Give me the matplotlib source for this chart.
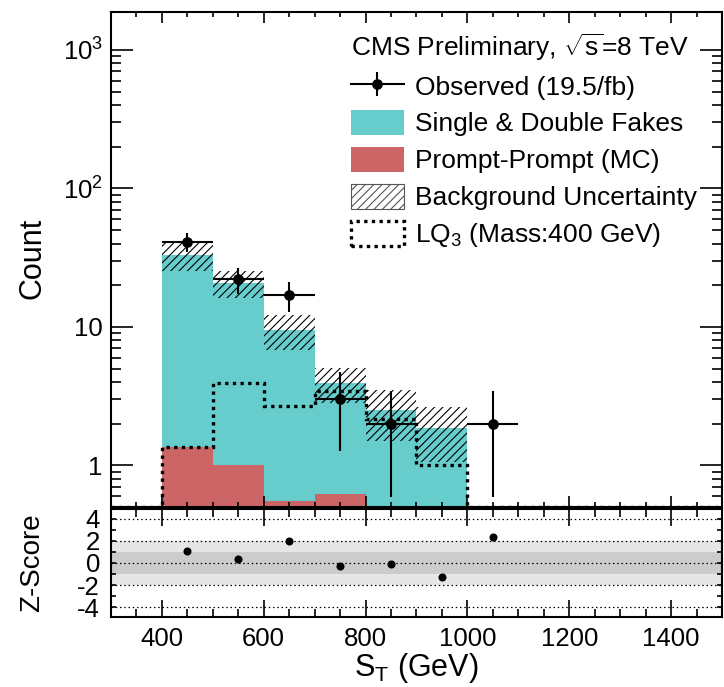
import numpy as np
import matplotlib
matplotlib.use('Agg')
import matplotlib.pyplot as plt
from matplotlib.patches import Patch
from matplotlib.lines import Line2D
from matplotlib.ticker import FixedLocator, FuncFormatter, NullFormatter, MultipleLocator

plt.rcParams['font.family'] = ['Liberation Sans', 'DejaVu Sans']
plt.rcParams['mathtext.fontset'] = 'custom'
plt.rcParams['mathtext.rm'] = 'Liberation Sans'
plt.rcParams['mathtext.it'] = 'Liberation Sans:italic'
plt.rcParams['mathtext.bf'] = 'Liberation Sans:bold'
plt.rcParams['axes.unicode_minus'] = False
plt.rcParams['hatch.linewidth'] = 0.8

# S_T binning (GeV)
edges = np.arange(300, 1501, 100)
centers = edges[:-1] + 50

prompt = np.array([0, 1.35, 1.0, 0.55, 0.62, 0, 0, 0, 0, 0, 0, 0])
fakes = np.array([0, 31.8, 19.8, 8.9, 3.3, 2.5, 1.85, 0, 0, 0, 0, 0])
bkg_err = np.array([0, 7.75, 4.5, 2.65, 1.1, 1.0, 0.8, 0, 0, 0, 0, 0])
observed = np.array([0, 41, 22, 17, 3, 2, 0, 2, 0, 0, 0, 0])
lq400 = np.array([0, 1.35, 3.9, 2.7, 3.45, 2.15, 1.0, 0, 0, 0, 0, 0])

z_st = np.array([450, 550, 650, 750, 850, 950, 1050])
zscore = np.array([1.05, 0.33, 1.97, -0.30, -0.12, -1.28, 2.36])

cyan = '#66cccc'
red = '#cc6666'
ymin, ymax = 0.5, 1880

fig = plt.figure(figsize=(7.24, 6.87), dpi=100)
ax = fig.add_axes([0.1533, 0.2620, 0.8439, 0.7205])
axz = fig.add_axes([0.1533, 0.1019, 0.8439, 0.1572])

# stacked backgrounds
total = prompt + fakes
ax.bar(centers, prompt, width=100, color=red, lw=0)
ax.bar(centers, fakes, width=100, bottom=prompt, color=cyan, lw=0)
ax.bar(centers, 2 * bkg_err, width=100, bottom=total - bkg_err,
       facecolor='none', edgecolor='black', lw=0, hatch='////')

# signal
ax.stairs(np.where(lq400 > 0, lq400, ymin), edges, baseline=None,
          color='black', lw=2.4, ls=(0, (1, 1.3)))

# data
m = observed > 0
ax.errorbar(centers[m], observed[m], xerr=50, yerr=np.sqrt(observed[m]),
            fmt='o', color='black', ms=6.7, lw=1.5, capsize=0)

ax.set_yscale('log')
ax.set_xlim(300, 1500)
ax.set_ylim(ymin, ymax)
ax.yaxis.set_major_locator(FixedLocator([1, 10, 100, 1000]))
ax.yaxis.set_major_formatter(FuncFormatter(
    lambda v, p: '%d' % v if v < 100 else r'$10^{%d}$' % round(np.log10(v))))
minors = [k * 10.0 ** e for e in range(-1, 4) for k in range(2, 10)]
ax.yaxis.set_minor_locator(FixedLocator(minors))
ax.yaxis.set_minor_formatter(NullFormatter())
ax.xaxis.set_major_locator(MultipleLocator(200))
ax.xaxis.set_minor_locator(MultipleLocator(50))
ax.tick_params(axis='both', which='both', direction='in', top=True, right=True,
               labelbottom=False, width=1.2)
ax.tick_params(axis='y', which='major', length=16, labelsize=18.5, pad=6)
ax.tick_params(axis='y', which='minor', length=7)
ax.tick_params(axis='x', which='major', length=8)
ax.tick_params(axis='x', which='minor', length=3.6)
for s in ax.spines.values():
    s.set_linewidth(1.5)

ax.set_ylabel('Count', fontsize=22, va='center')
ax.yaxis.set_label_coords(33 / 724, 1 - 258 / 687, transform=fig.transFigure)

obs_handle = (Line2D([], [], color='black', lw=1.5, marker='o', ms=6.7),
              Line2D([], [], color='black', ls='none', marker='|', ms=17, mew=1.5))
handles = [obs_handle,
           Patch(facecolor=cyan, edgecolor='none'),
           Patch(facecolor=red, edgecolor='none'),
           Patch(facecolor='white', edgecolor='#555555', lw=0.8, hatch='////'),
           Patch(facecolor='white', edgecolor='black', lw=2.4, ls=(0, (1, 1.3)))]
labels = ['Observed (19.5/fb)', 'Single & Double Fakes', 'Prompt-Prompt (MC)',
          'Background Uncertainty', r'LQ$_3$ (Mass:400 GeV)']
leg = ax.legend(handles, labels, title=r'CMS Preliminary, $\sqrt{\mathrm{s}}$=8 TeV',
                loc='upper left', bbox_to_anchor=(351 / 724, 1 - 31 / 687),
                bbox_transform=fig.transFigure, frameon=False, fontsize=19,
                title_fontsize=19, alignment='left', borderpad=0,
                handlelength=2.0, handleheight=1.1, handletextpad=0.42,
                labelspacing=0.39, borderaxespad=0)

# z-score panel
axz.axhspan(-2, 2, color='#e6e6e6', lw=0)
axz.axhspan(-1, 1, color='#cccccc', lw=0)
zticks = [-4, -2, 0, 2, 4]
for y in zticks:
    axz.axhline(y, color='black', lw=0.9, ls=(0, (1.2, 2.2)))
axz.plot(z_st, zscore, 'o', color='black', ms=4.8)
axz.set_xlim(300, 1500)
axz.set_ylim(-4.9, 4.9)
axz.yaxis.set_major_locator(FixedLocator(zticks))
axz.yaxis.set_minor_locator(MultipleLocator(1))
axz.xaxis.set_major_locator(MultipleLocator(200))
axz.xaxis.set_minor_locator(MultipleLocator(50))
axz.tick_params(axis='both', which='both', direction='in', top=True, right=True,
                labelsize=18.5, width=1.2)
axz.tick_params(axis='x', which='major', length=12, pad=7)
axz.tick_params(axis='x', which='minor', length=5.5)
axz.tick_params(axis='y', which='both', length=3.5, pad=8)
for s in axz.spines.values():
    s.set_linewidth(1.5)

axz.set_ylabel('Z-Score', fontsize=20, va='center')
axz.yaxis.set_label_coords(32 / 724, 1 - 563 / 687, transform=fig.transFigure)
axz.set_xlabel(r'S$_{\mathrm{T}}$ (GeV)', fontsize=22, labelpad=0)

fig.savefig('out.png', dpi=100)
